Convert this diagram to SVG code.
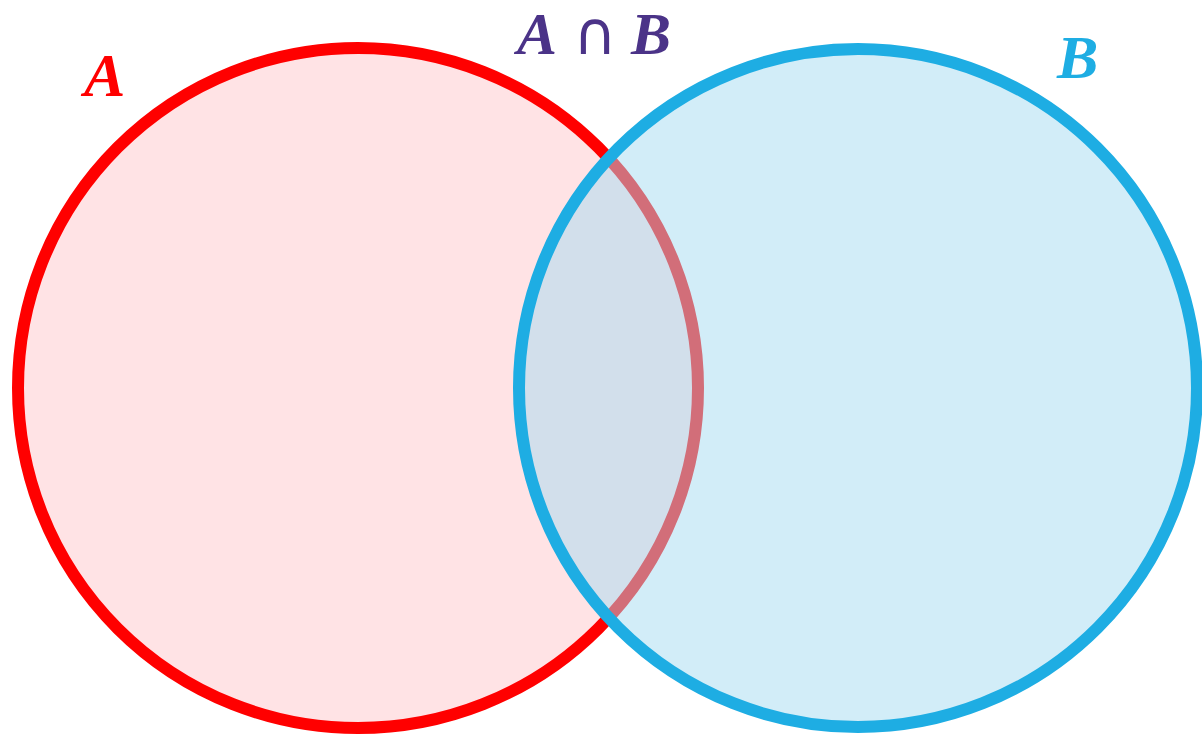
<svg xmlns="http://www.w3.org/2000/svg" width="1202" height="738" viewBox="0 0 1202 738">
<style>
.lbl{font-family:"Liberation Serif","DejaVu Serif",serif;font-weight:bold;font-style:italic;font-size:62px}
.top{font-size:60px}
.op{font-family:"DejaVu Sans","Liberation Sans",sans-serif;font-weight:normal;font-style:normal}
</style>
<rect width="1202" height="738" fill="#ffffff"/>
<g id="setA">
<circle cx="358" cy="388" r="340" fill="#FFE3E5" stroke="#FF0000" stroke-width="12"/>
</g>
<g id="setB">
<circle cx="858" cy="388" r="339" fill="rgb(165,220,241)" fill-opacity="0.5" stroke="none"/>
<circle cx="858" cy="388" r="339" fill="none" stroke="#1EADE3" stroke-width="12"/>
</g>
<g id="labels">
<text class="lbl" x="84" y="96" fill="#FF0000">A</text>
<text class="lbl" x="1057" y="78" fill="#1EADE3">B</text>
<text class="lbl top" y="54" fill="#4B3388"><tspan x="517">A</tspan><tspan class="op" x="573">∩</tspan><tspan x="631">B</tspan></text>
</g>
</svg>
